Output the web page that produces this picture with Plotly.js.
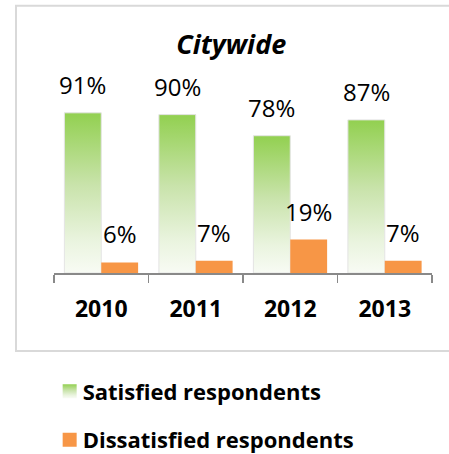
<!DOCTYPE html>
<html>
<head>
<meta charset="utf-8">
<script src="https://cdn.plot.ly/plotly-3.0.1.min.js"></script>
<style>html,body{margin:0;padding:0;background:#fff;}</style>
</head>
<body>
<div id="chart" style="width:449px;height:454px;"></div>
<script>
const categories = ['2010', '2011', '2012', '2013'];
const satisfied = [91, 90, 78, 87];
const dissatisfied = [6, 7, 19, 7];
const seriesNames = ['Satisfied respondents', 'Dissatisfied respondents'];

const FONT = 'Open Sans, Arial, sans-serif';

const traces = [
  {
    type: 'bar', name: seriesNames[0], x: categories, y: satisfied,
    marker: {color: '#92d050', line: {color: '#e4e4e4', width: 1}},
    legendgroup: 'a', hoverinfo: 'none'
  },
  {
    type: 'bar', name: seriesNames[1], x: categories, y: dissatisfied,
    marker: {color: '#f79646'},
    legendgroup: 'b', hoverinfo: 'none'
  }
];

const annotations = [];
[satisfied, dissatisfied].forEach((vals, i) => {
  vals.forEach((v, j) => {
    annotations.push({
      x: j, y: v, xref: 'x', yref: 'y',
      text: v + '%', showarrow: false,
      xanchor: 'center', yanchor: 'bottom',
      xshift: i === 0 ? -18.4 : 18.4, yshift: 10,
      font: {family: FONT, size: 24, color: '#000'}
    });
  });
});

const layout = {
  width: 449, height: 454,
  margin: {l: 54, r: 17, t: 97, b: 181, autoexpand: false},
  paper_bgcolor: '#fff', plot_bgcolor: '#fff',
  title: {
    text: '<b><i>Citywide</i></b>',
    font: {family: FONT, size: 27, color: '#000'},
    xref: 'container', x: 0.515, xanchor: 'center',
    yref: 'container', y: 0.901, yanchor: 'middle'
  },
  barmode: 'group', bargap: 0.22, bargroupgap: 0,
  xaxis: {
    type: 'category', range: [-0.5, 3.5], automargin: false,
    showline: true, linecolor: '#898989', linewidth: 1.5,
    ticks: 'outside', tickson: 'boundaries', ticklen: 8, tickcolor: '#898989', tickwidth: 1.5,
    tickfont: {family: FONT, size: 23, color: '#000', weight: 'bold'},
    tickangle: 0, ticklabelstandoff: 15,
    showgrid: false, zeroline: false, fixedrange: true
  },
  yaxis: {range: [0, 100], visible: false, fixedrange: true},
  showlegend: true,
  legend: {
    orientation: 'v', x: -0.03, xanchor: 'left', y: -0.553, yanchor: 'top',
    font: {family: FONT, size: 22, color: '#000', weight: 'bold'},
    traceorder: 'grouped', tracegroupgap: 17,
    bgcolor: 'rgba(0,0,0,0)', itemclick: false, itemdoubleclick: false
  },
  shapes: [{
    type: 'rect', xref: 'paper', yref: 'paper', layer: 'below',
    x0: -0.1005, x1: 1.08, y0: -0.4437, y1: 1.519,
    line: {color: '#d9d9d9', width: 2}, fillcolor: 'rgba(0,0,0,0)'
  }],
  annotations: annotations
};

Plotly.newPlot('chart', traces, layout, {displayModeBar: false, staticPlot: true}).then(gd => {
  const svgNS = 'http://www.w3.org/2000/svg';
  const svg = gd.querySelector('svg.main-svg');
  let defs = svg.querySelector('defs');
  if (!defs) { defs = document.createElementNS(svgNS, 'defs'); svg.insertBefore(defs, svg.firstChild); }
  const grad = document.createElementNS(svgNS, 'linearGradient');
  grad.setAttribute('id', 'greenGrad');
  grad.setAttribute('x1', '0'); grad.setAttribute('y1', '0');
  grad.setAttribute('x2', '0'); grad.setAttribute('y2', '1');
  [['0', '#92d050'], ['0.45', '#c9e3ab'], ['0.8', '#eaf4df'], ['1', '#f8fbf4']].forEach(([o, c]) => {
    const s = document.createElementNS(svgNS, 'stop');
    s.setAttribute('offset', o); s.setAttribute('stop-color', c);
    grad.appendChild(s);
  });
  defs.appendChild(grad);
  const barTraces = gd.querySelectorAll('.barlayer .trace.bars');
  if (barTraces[0]) barTraces[0].querySelectorAll('.point path').forEach(p => { p.style.fill = 'url(#greenGrad)'; });
  const legTraces = gd.querySelectorAll('.legend .traces');
  legTraces.forEach((t, i) => {
    t.querySelectorAll('.legendpoints path').forEach(p => {
      p.setAttribute('d', 'M14,7H0V-7H14Z');
      if (i === 0) { p.style.fill = 'url(#greenGrad)'; p.style.stroke = 'none'; }
    });
  });
});
</script>
</body>
</html>
